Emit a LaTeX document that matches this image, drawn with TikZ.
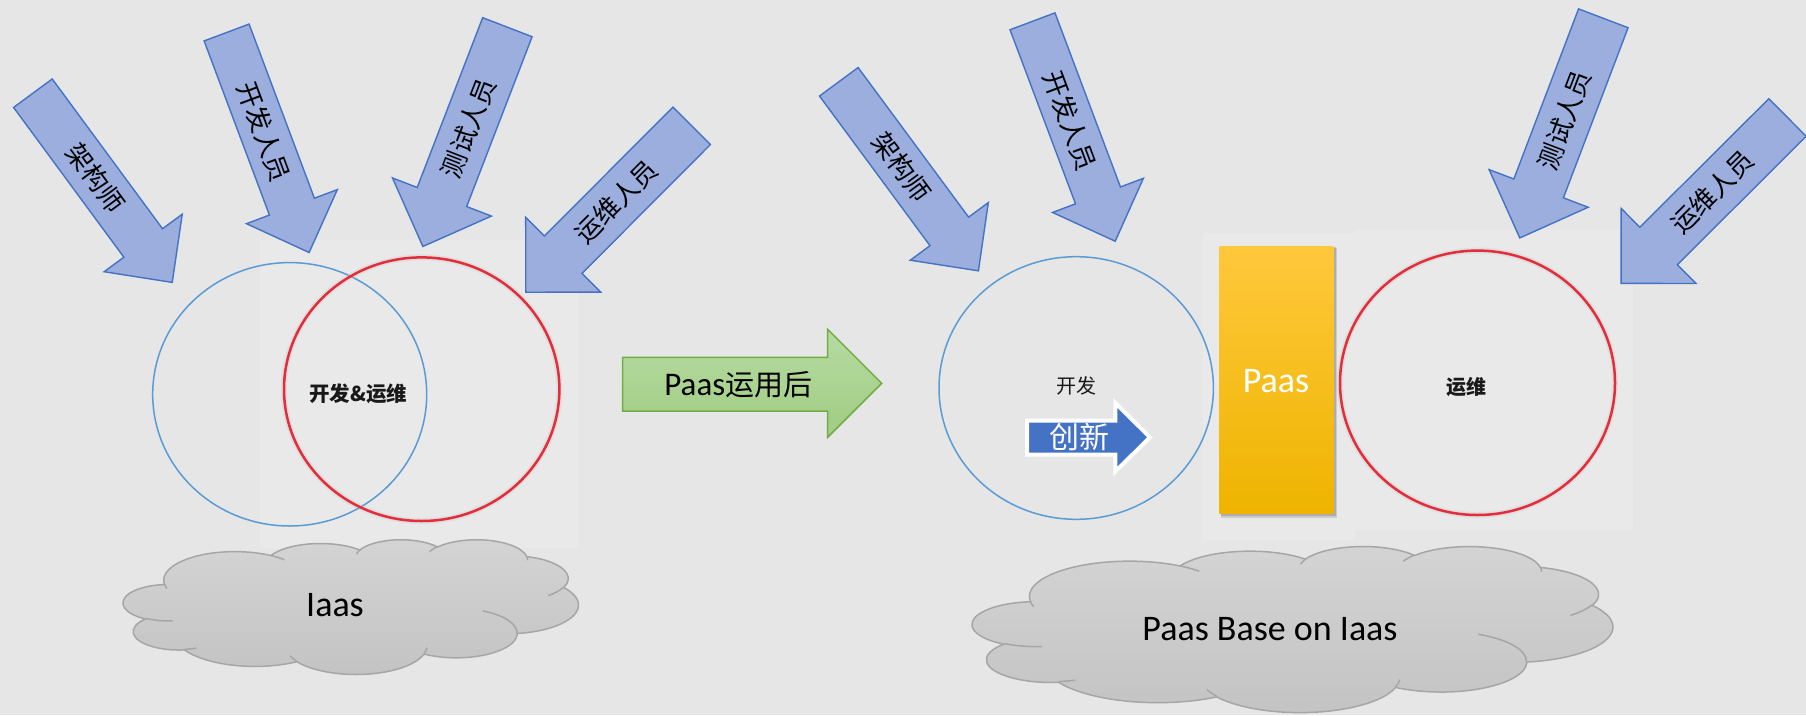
\documentclass[tikz,border=0pt]{standalone}
\usepackage{fontspec}
\setmainfont{Carlito}
\newfontfamily\cjk{Noto Sans CJK SC}
\definecolor{bg}{RGB}{230,230,230}
\definecolor{bgl}{RGB}{233,233,233}
\definecolor{arrowfill}{RGB}{155,174,221}
\definecolor{arrowline}{RGB}{68,114,196}
\definecolor{greentop}{RGB}{182,219,161}
\definecolor{greenbot}{RGB}{160,204,130}
\definecolor{greenline}{RGB}{112,173,71}
\definecolor{circblue}{RGB}{91,155,213}
\definecolor{circred}{RGB}{228,44,58}
\definecolor{cloudline}{RGB}{166,166,166}
\definecolor{cloudtop}{RGB}{212,212,212}
\definecolor{cloudbot}{RGB}{195,195,195}
\definecolor{innblue}{RGB}{68,114,196}
\definecolor{paastop}{RGB}{255,200,60}
\definecolor{paasbot}{RGB}{238,180,0}
\tikzset{
  bluearrow/.style={draw=arrowline, line width=1.4pt, fill=arrowfill, line join=miter},
  arrowlabel/.style={font=\cjk\fontsize{26}{28}\selectfont, inner sep=0pt, text=black},
  greenarrow/.style={draw=greenline, line width=1.5pt, top color=greentop, bottom color=greenbot},
  cloudshape/.style={draw=cloudline, line width=1.5pt, top color=cloudtop, bottom color=cloudbot},
  cloudmark/.style={draw=cloudline, line width=1.5pt},
  cloudtext/.style={font=\fontsize{36}{40}\selectfont, inner sep=0pt, text=black},
  bluering/.style={draw=circblue, line width=1.5pt},
  redring/.style={draw=circred, line width=2.5pt},
  ringglow/.style={draw=black!30, line width=6pt, opacity=0.2},
  ringtext/.style={font=\cjk\fontsize{20}{22}\selectfont, inner sep=0pt, text=black!90},
}
\newcommand{\BlueArrow}[9]{%
  \begin{scope}[shift={#2}, rotate=#3]
    \draw[bluearrow] (0,-#4) -- ({235-#6},-#4) -- ({235-#6},-#5) -- (235,0) -- ({235-#6},#5) -- ({235-#6},#4) -- (0,#4) -- cycle;
    \node[arrowlabel, rotate=#7] (#1) at (#9,0) {#8};
  \end{scope}}
\newcommand{\CloudDraw}{%
  \path[cloudshape] (9.028,33.264)
    arc[start angle=-187.75, end angle=-59.64, x radius=15.632, y radius=21.273]
    arc[start angle=-152.03, end angle=-45.45, x radius=12.345, y radius=16.822]
    arc[start angle=-153.49, end angle=-37.34, x radius=10.104, y radius=13.762]
    arc[start angle=-139.71, end angle=-10.21, x radius=11.243, y radius=15.266]
    arc[start angle=-74.77, end angle=23.21, x radius=12.345, y radius=16.836]
    arc[start angle=-37.52, end angle=81.86, x radius=15.683, y radius=21.343]
    arc[start angle=0.46, end angle=121.97, x radius=13.391, y radius=18.211]
    arc[start angle=16.84, end angle=146.23, x radius=15.630, y radius=21.331]
    arc[start angle=58.98, end angle=150.19, x radius=17.870, y radius=24.405]
    arc[start angle=-276.69, end angle=-136.91, x radius=10.093, y radius=13.699]
    arc[start angle=-239.65, end angle=-95.89, x radius=10.058, y radius=13.762]
    -- cycle;
  \path[cloudmark]
    (10.863,60.595) arc[start angle=85.55, end angle=120.36, x radius=10.058, y radius=13.762]
    (16.037,80.785) arc[start angle=68.24, end angle=83.30, x radius=10.093, y radius=13.699]
    (38.144,90.486) arc[start angle=146.23, end angle=158.47, x radius=15.630, y radius=21.331]
    (66.729,80.442) arc[start angle=4.74, end angle=16.84, x radius=15.630, y radius=21.331]
    (79.002,53.134) arc[start angle=-64.03, end angle=0.46, x radius=13.391, y radius=18.211]
    (96.755,35.542) arc[start angle=23.21, end angle=49.64, x radius=12.345, y radius=16.836]
    (88.713,12.560) arc[start angle=-10.21, end angle=0.82, x radius=11.243, y radius=15.266]
    (67.310,9.148) arc[start angle=-156.29, end angle=-139.71, x radius=11.243, y radius=15.266]
    (51.252,10.926) arc[start angle=-167.73, end angle=-153.49, x radius=10.104, y radius=13.762]
    (32.407,12.019) arc[start angle=-59.64, end angle=-45.73, x radius=15.632, y radius=21.273]
    (9.553,36.549) arc[start angle=163.19, end angle=172.25, x radius=15.632, y radius=21.273];
}
\begin{document}
\begin{tikzpicture}[x=1pt, y=-1pt]
  \useasboundingbox (0,0) rectangle (1806,715);
  \fill[bg] (0,0) rectangle (1806,715);
  % lighter pasted areas
  \fill[bgl] (260,240) rectangle (578,548);
  \fill[bgl] (1203,233) rectangle (1355,540);
  \fill[bgl] (1355,230) rectangle (1633,530);

  % left circles
  \draw[bluering] (289.7,394.3) ellipse [x radius=137, y radius=131.7];
  \draw[ringglow] (421.7,389.2) ellipse [x radius=137.7, y radius=131.8];
  \draw[redring] (421.7,389.2) ellipse [x radius=137.7, y radius=131.8];
  \node[ringtext, font=\cjk\bfseries\fontsize{20.5}{22}\selectfont] (devops) at (358.3,394) {开发\&运维};

  % left cloud
  \begin{scope}[shift={(123.3,539.3)}, x=4.55pt, y=-1.347pt]
    \CloudDraw
  \end{scope}
  \node[cloudtext] (iaas) at (335,605) {Iaas};

  % left arrows
  \BlueArrow{a1}{(32.9,93.2)}{-53.63}{24}{48.5}{49}{-53.63}{架构师}{106}
  \BlueArrow{a2}{(226.6,32.5)}{-69.44}{24}{48.5}{49}{-69.44}{开发人员}{106}
  \BlueArrow{a3}{(507.4,27.2)}{-111.08}{26.5}{53}{53}{68.92}{测试人员}{108}
  \BlueArrow{a4}{(691.7,125.8)}{-134.91}{26.5}{53}{53}{45.09}{运维人员}{107}

  % middle green arrow
  \path[greenarrow] (622.7,357.3) -- (827.7,357.3) -- (827.7,329.3) -- (881.7,383.3) -- (827.7,437.3) -- (827.7,411) -- (622.7,411) -- cycle;
  \node[inner sep=0pt] (after) at (738.3,385) {\fontsize{33}{36}\selectfont Paas{\cjk\fontsize{29}{36}\selectfont 运用后}};

  % right side
  \draw[bluering] (1076.2,388) ellipse [x radius=137.2, y radius=131.3];
  \node[ringtext] (dev) at (1076.7,386) {开发};
  \draw[line width=4pt, draw=white, fill=innblue, line join=miter] (1027,420.5) -- (1115.3,420.5) -- (1115.3,403) -- (1150,437.3) -- (1115.3,471.5) -- (1115.3,454.5) -- (1027,454.5) -- cycle;
  \node[inner sep=0pt, text=white, font=\cjk\fontsize{30}{32}\selectfont] (innov) at (1079,437.3) {创新};

  \fill[black, opacity=0.12] (1221,248) rectangle (1337,518);
  \fill[black, opacity=0.15] (1220.5,247) rectangle (1335.5,516);
  \shade[top color=paastop, bottom color=paasbot] (1219.3,246) rectangle (1333.3,513.3);
  \node[inner sep=0pt, text=white, font=\fontsize{36}{40}\selectfont] (paas) at (1276,381) {Paas};

  \draw[ringglow] (1477.5,382.8) ellipse [x radius=137.5, y radius=132.2];
  \draw[redring] (1477.5,382.8) ellipse [x radius=137.5, y radius=132.2];
  \node[ringtext, font=\cjk\bfseries\fontsize{20}{22}\selectfont] (ops) at (1466.7,387.3) {运维};

  % right cloud
  \begin{scope}[shift={(972.5,546)}, x=6.402pt, y=-1.66pt]
    \CloudDraw
  \end{scope}
  \node[cloudtext] (paasbase) at (1270,629) {Paas Base on Iaas};

  % right arrows
  \BlueArrow{b1}{(838.8,81.8)}{-53.55}{24}{48.5}{49}{-53.55}{架构师}{106}
  \BlueArrow{b2}{(1032.5,21.3)}{-69.39}{24}{48.5}{49}{-69.39}{开发人员}{106}
  \BlueArrow{b3}{(1603.3,18.3)}{-110.82}{26.5}{53}{53}{69.18}{测试人员}{109}
  \BlueArrow{b4}{(1787.5,117.5)}{-135.1}{26.5}{53}{53}{44.9}{运维人员}{106}
\end{tikzpicture}
\end{document}
